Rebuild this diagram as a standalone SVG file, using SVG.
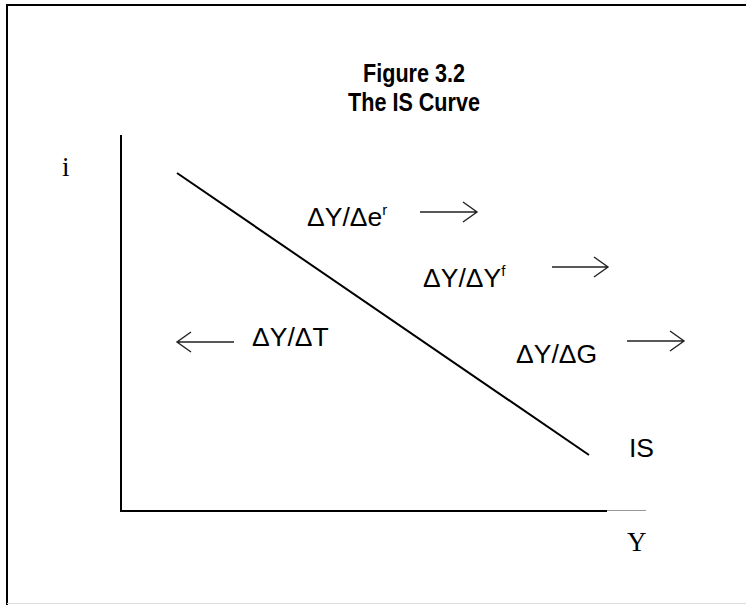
<svg xmlns="http://www.w3.org/2000/svg" width="746" height="605" viewBox="0 0 746 605">
<style>
.frame{stroke:#000;stroke-width:2;fill:none}
.ax{stroke:#000;stroke-width:2;fill:none}
.curve{stroke:#000;stroke-width:2;fill:none}
.arr{stroke:#222;stroke-width:1.4;fill:none}
.title{font-family:"Liberation Sans",Arial,sans-serif;font-weight:bold;font-size:26px;text-anchor:middle;fill:#000}
.lbl{font-family:"Liberation Sans",Arial,sans-serif;font-size:26.5px;fill:#000}
.sup{font-size:15px}
.ser{font-family:"Liberation Serif","Times New Roman",serif;font-size:27px;fill:#000}
</style>
<rect width="746" height="605" fill="#fff"/>
<g id="frame">
<line class="frame" x1="6" y1="5" x2="746" y2="5"/>
<line class="frame" x1="7" y1="5" x2="7" y2="605"/>
<line x1="7" y1="603.5" x2="746" y2="603.5" stroke="#ddd" stroke-width="1"/>
</g>
<g id="title" transform="translate(414 0) scale(0.83 1)">
<text class="title" x="0" y="82">Figure 3.2</text>
<text class="title" x="0" y="111">The IS Curve</text>
</g>
<g id="axes">
<line class="ax" x1="121" y1="135" x2="121" y2="512"/>
<line class="ax" x1="120" y1="511" x2="607" y2="511"/>
<line x1="607" y1="510.5" x2="646" y2="510.5" stroke="#999" stroke-width="1"/>
<text id="i-label" class="ser" x="62" y="176">i</text>
<text id="y-label" class="ser" x="627" y="551">Y</text>
</g>
<g id="is-curve">
<line class="curve" x1="177" y1="173" x2="589" y2="455"/>
<text class="lbl" x="629" y="457">IS</text>
</g>
<g id="label-er">
<text class="lbl" x="307" y="226">ΔY/Δe<tspan class="sup" dy="-11">r</tspan></text>
</g>
<g id="label-yf">
<text class="lbl" x="423" y="287">ΔY/ΔY<tspan class="sup" dy="-11">f</tspan></text>
</g>
<g id="label-t">
<text class="lbl" x="252" y="346">ΔY/ΔT</text>
</g>
<g id="label-g">
<text class="lbl" x="516" y="363">ΔY/ΔG</text>
</g>
<g id="connectors">
<path class="arr" d="M420 212 H477 M463 202 L477 212 L463 222"/>
<path class="arr" d="M552 267 H608 M594 257 L608 267 L594 277"/>
<path class="arr" d="M234 342 H177 M191 332 L177 342 L191 352"/>
<path class="arr" d="M627 341 H684 M670 331 L684 341 L670 351"/>
</g>
</svg>
